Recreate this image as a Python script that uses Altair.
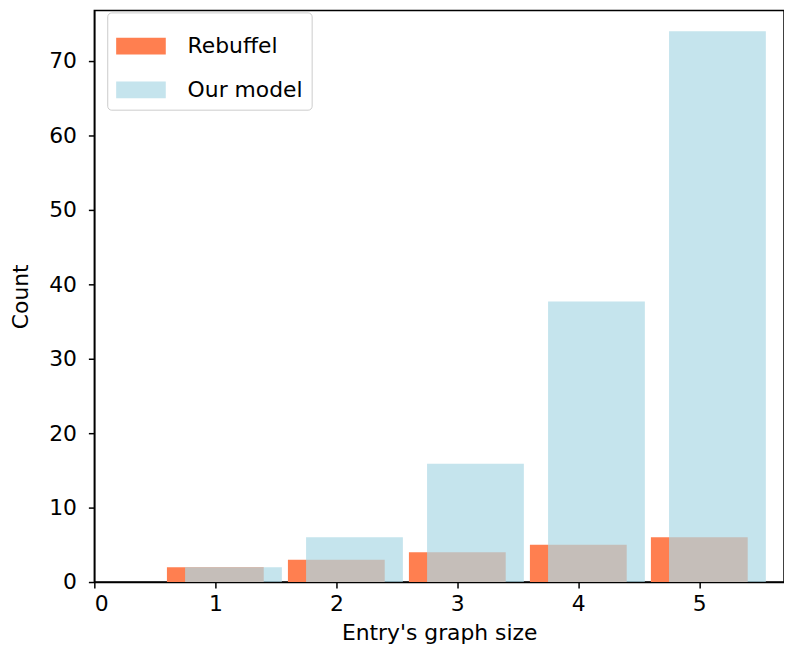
import altair as alt
import pandas as pd

sizes = [1, 2, 3, 4, 5]
rebuffel_counts = [2, 3, 4, 5, 6]
our_counts = [2, 6, 15.9, 37.7, 74]
series_names = ["Rebuffel", "Our model"]
colors = ["#ff7f50", "rgba(173,216,230,0.7)"]

rows = []
for s, c in zip(sizes, rebuffel_counts):
    rows.append({"size": s, "count": c, "series": "Rebuffel", "offset": 0.0})
for s, c in zip(sizes, our_counts):
    rows.append({"size": s, "count": c, "series": "Our model", "offset": 0.15})
df = pd.DataFrame(rows)

FONT = "DejaVu Sans"

chart = (
    alt.Chart(df)
    .transform_calculate(
        x0="datum.size + datum.offset - 0.4",
        x1="datum.size + datum.offset + 0.4",
    )
    .mark_rect()
    .encode(
        x=alt.X(
            "x0:Q",
            scale=alt.Scale(domain=[0, 5.7], nice=False, zero=False),
            axis=alt.Axis(
                title="Entry's graph size",
                values=[0, 1, 2, 3, 4, 5],
                format="d",
                grid=False,
                tickSize=6,
                labelPadding=6,
                titlePadding=8,
            ),
        ),
        x2="x1:Q",
        y=alt.Y(
            "count:Q",
            scale=alt.Scale(domain=[0, 76.8], nice=False),
            axis=alt.Axis(
                title="Count",
                values=[0, 10, 20, 30, 40, 50, 60, 70],
                grid=False,
                tickSize=6,
                labelPadding=12,
                titlePadding=16,
            ),
        ),
        y2=alt.datum(0),
        color=alt.Color(
            "series:N",
            sort=series_names,
            scale=alt.Scale(domain=series_names, range=colors),
            legend=alt.Legend(
                title=None,
                orient="none",
                legendX=13,
                legendY=2,
                symbolType="M-1,-0.34H1V0.34H-1Z",
                symbolSize=2500,
                symbolStrokeWidth=0,
                labelOffset=22,
                rowPadding=8,
                padding=9,
                strokeColor="#cccccc",
                fillColor="white",
                cornerRadius=4,
                labelFontSize=22,
                labelFont=FONT,
                labelColor="black",
            ),
        ),
        order=alt.Order("offset:Q"),
    )
    .properties(
        width=695,
        height=576,
        autosize=alt.AutoSizeParams(type="none"),
        padding={"left": 87, "top": 0, "right": 0, "bottom": 62},
    )
    .configure_view(stroke="black", strokeWidth=1.5)
    .configure_axis(
        domainColor="black",
        domainWidth=1.5,
        tickColor="black",
        tickWidth=1.5,
        labelFont=FONT,
        titleFont=FONT,
        labelFontSize=22,
        titleFontSize=22,
        labelColor="black",
        titleColor="black",
        titleFontWeight="normal",
    )
)

chart.save("out.html", embed_options={"renderer": "svg", "actions": False})
